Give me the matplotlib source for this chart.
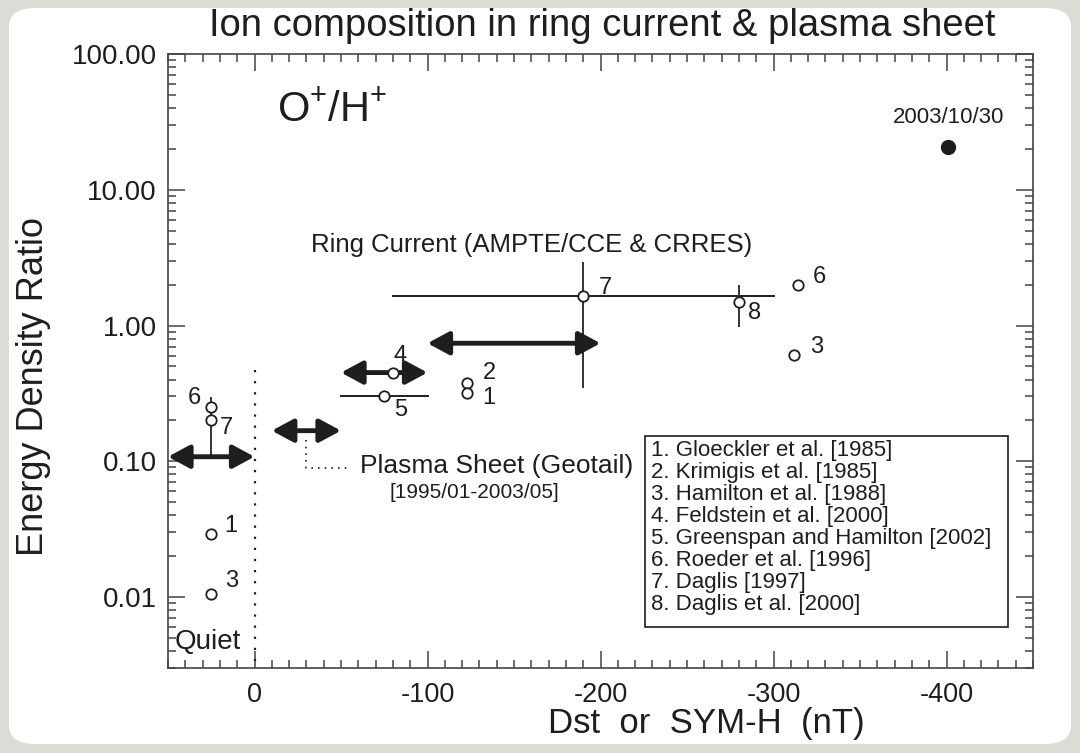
import numpy as np
import matplotlib
matplotlib.use("Agg")
import matplotlib.pyplot as plt
import matplotlib.ticker as mticker
from matplotlib.patches import FancyBboxPatch, Rectangle

plt.rcParams['font.family'] = ['Liberation Sans', 'DejaVu Sans']
plt.rcParams['mathtext.fontset'] = 'custom'
plt.rcParams['mathtext.rm'] = 'Liberation Sans'
plt.rcParams['mathtext.default'] = 'regular'
plt.rcParams['axes.unicode_minus'] = False

# published O+/H+ energy density ratios vs storm Dst
ref_num = ['6', '7', '1', '3', '4', '5', '2', '1', '7', '8', '6', '3']
pt_dst = [25, 25, 25, 25, -80, -75, -123, -123, -190, -280, -314, -312]
pt_ratio = [0.25, 0.20, 0.029, 0.0105, 0.45, 0.30, 0.375, 0.32, 1.66, 1.5, 2.0, 0.61]

# thin range bars
hbar_dst0 = [-80, -50]
hbar_dst1 = [-300, -100]
hbar_ratio = [1.66, 0.30]
vbar_dst = [25, -190, -280]
vbar_lo = [0.108, 0.35, 1.0]
vbar_hi = [0.29, 2.9, 1.97]

# plasma sheet (Geotail) ranges, thick arrows
arrow_dst0 = [50, -10, -50, -100]
arrow_dst1 = [0, -50, -100, -200]
arrow_ratio = [0.108, 0.168, 0.45, 0.74]

# 2003/10/30 storm
event_dst = [-401]
event_ratio = [20.7]

refs = ["1. Gloeckler et al. [1985]",
        "2. Krimigis et al. [1985]",
        "3. Hamilton et al. [1988]",
        "4. Feldstein et al. [2000]",
        "5. Greenspan and Hamilton [2002]",
        "6. Roeder et al. [1996]",
        "7. Daglis [1997]",
        "8. Daglis et al. [2000]"]

x_ticks = [0, -100, -200, -300, -400]
y_ticks = [0.01, 0.1, 1, 10, 100]

# label offsets (pixels) for the reference numbers
lab_dx = [-17, 15, 20, 20, 7, 16, 22, 22, 22, 16, 22, 22]
lab_dy = [9, -8, 8, 13, 17, -14, 10, -5, 8, -11, 8, 8]

ink = '#1e1e1e'
fig = plt.figure(figsize=(10.8, 7.53), dpi=100, facecolor='#dcdcd7')
fig.patches.append(FancyBboxPatch((9/1080, 9/753), 1062/1080, 736/753,
                                  boxstyle="round,pad=0,rounding_size=0.025",
                                  transform=fig.transFigure, facecolor='white',
                                  edgecolor='none', zorder=-5))

ax = fig.add_axes([168/1080, 1-668/753, 865/1080, 614/753])
ax.set_yscale('log')
ax.set_xlim(50, -450)
ax.set_ylim(0.003, 100)

for sp in ax.spines.values():
    sp.set_color('#444444')
    sp.set_linewidth(1.2)

ax.set_xticks(x_ticks)
ax.xaxis.set_minor_locator(mticker.MultipleLocator(10))
ax.set_yticks(y_ticks)
ax.yaxis.set_major_formatter(mticker.FormatStrFormatter('%.2f'))
ax.yaxis.set_minor_locator(mticker.LogLocator(base=10, subs=np.arange(2, 10)))
ax.yaxis.set_minor_formatter(mticker.NullFormatter())
ax.tick_params(which='both', direction='in', top=True, right=True,
               color='#444444', width=1.1, labelsize=20, labelcolor=ink)
ax.tick_params(which='major', length=12)
ax.tick_params(which='minor', length=6)
ax.tick_params(axis='x', which='major', pad=10, labelsize=19.5)
ax.tick_params(axis='y', which='major', pad=8)

# quiet boundary
ax.plot([0, 0], [0.47, 0.003], color=ink, lw=1.6, ls=(0, (1, 4)))

# plasma sheet connector
ax.plot([-30, -30, -55], [0.144, 0.0895, 0.0895], color=ink, lw=1.2, ls=(0, (1, 3)))

for x0, x1, y in zip(hbar_dst0, hbar_dst1, hbar_ratio):
    ax.plot([x0, x1], [y, y], color=ink, lw=1.4, zorder=3)
for x, lo, hi in zip(vbar_dst, vbar_lo, vbar_hi):
    ax.plot([x, x], [lo, hi], color='#333333', lw=1.4, zorder=3)

for x0, x1, y in zip(arrow_dst0, arrow_dst1, arrow_ratio):
    ax.annotate('', xy=(x1, y), xytext=(x0, y),
                arrowprops=dict(arrowstyle='<|-|>,head_length=0.65,head_width=0.35',
                                lw=3.5, color=ink, mutation_scale=20,
                                shrinkA=0, shrinkB=0), zorder=4)

ax.plot(pt_dst, pt_ratio, ls='none', marker='o', ms=7.5, mfc='white',
        mec=ink, mew=1.3, zorder=5)
for x, y, s, dx, dy in zip(pt_dst, pt_ratio, ref_num, lab_dx, lab_dy):
    ax.annotate(s, (x, y), xytext=(dx, dy), textcoords='offset pixels',
                ha='center', va='center', fontsize=17, color=ink)

ax.plot(event_dst, event_ratio, ls='none', marker='o', ms=10, color=ink, zorder=5)
ax.text(event_dst[0], 34, '2003/10/30', ha='center', va='center', fontsize=16, color=ink)

ax.text(-13, 38.6, 'O$^{+}$/H$^{+}$', ha='left', va='center', fontsize=30, color=ink)
ax.text(-160, 3.9, 'Ring Current (AMPTE/CCE & CRRES)', ha='center', va='center',
        fontsize=18.5, color=ink)
ax.text(-61, 0.093, 'Plasma Sheet (Geotail)', ha='left', va='center', fontsize=19, color=ink)
ax.text(-127, 0.059, '[1995/01-2003/05]', ha='center', va='center', fontsize=15, color=ink)
ax.text(46, 0.0047, 'Quiet', ha='left', va='center', fontsize=20, color=ink)

# reference list box
ax.add_patch(Rectangle((0.551, 0.067), 0.42, 0.311, transform=ax.transAxes,
                       facecolor='white', edgecolor=ink, lw=1.2, zorder=6))
for i, r in enumerate(refs):
    ax.text(0.558, 0.354 - i * 0.0357, r, transform=ax.transAxes, ha='left',
            va='center', fontsize=16, color=ink, zorder=7)

fig.text(602/1080, 1-26/753, 'Ion composition in ring current & plasma sheet',
         ha='center', va='center', fontsize=27.5, color=ink)
fig.text(34/1080, 1-387/753, 'Energy Density Ratio', rotation=90,
         ha='center', va='center', fontsize=26, color=ink)
fig.text(706/1080, 1-724/753, 'Dst  or  SYM-H  (nT)', ha='center', va='center',
         fontsize=25, color=ink)

fig.savefig('out.png', dpi=100, facecolor=fig.get_facecolor())
